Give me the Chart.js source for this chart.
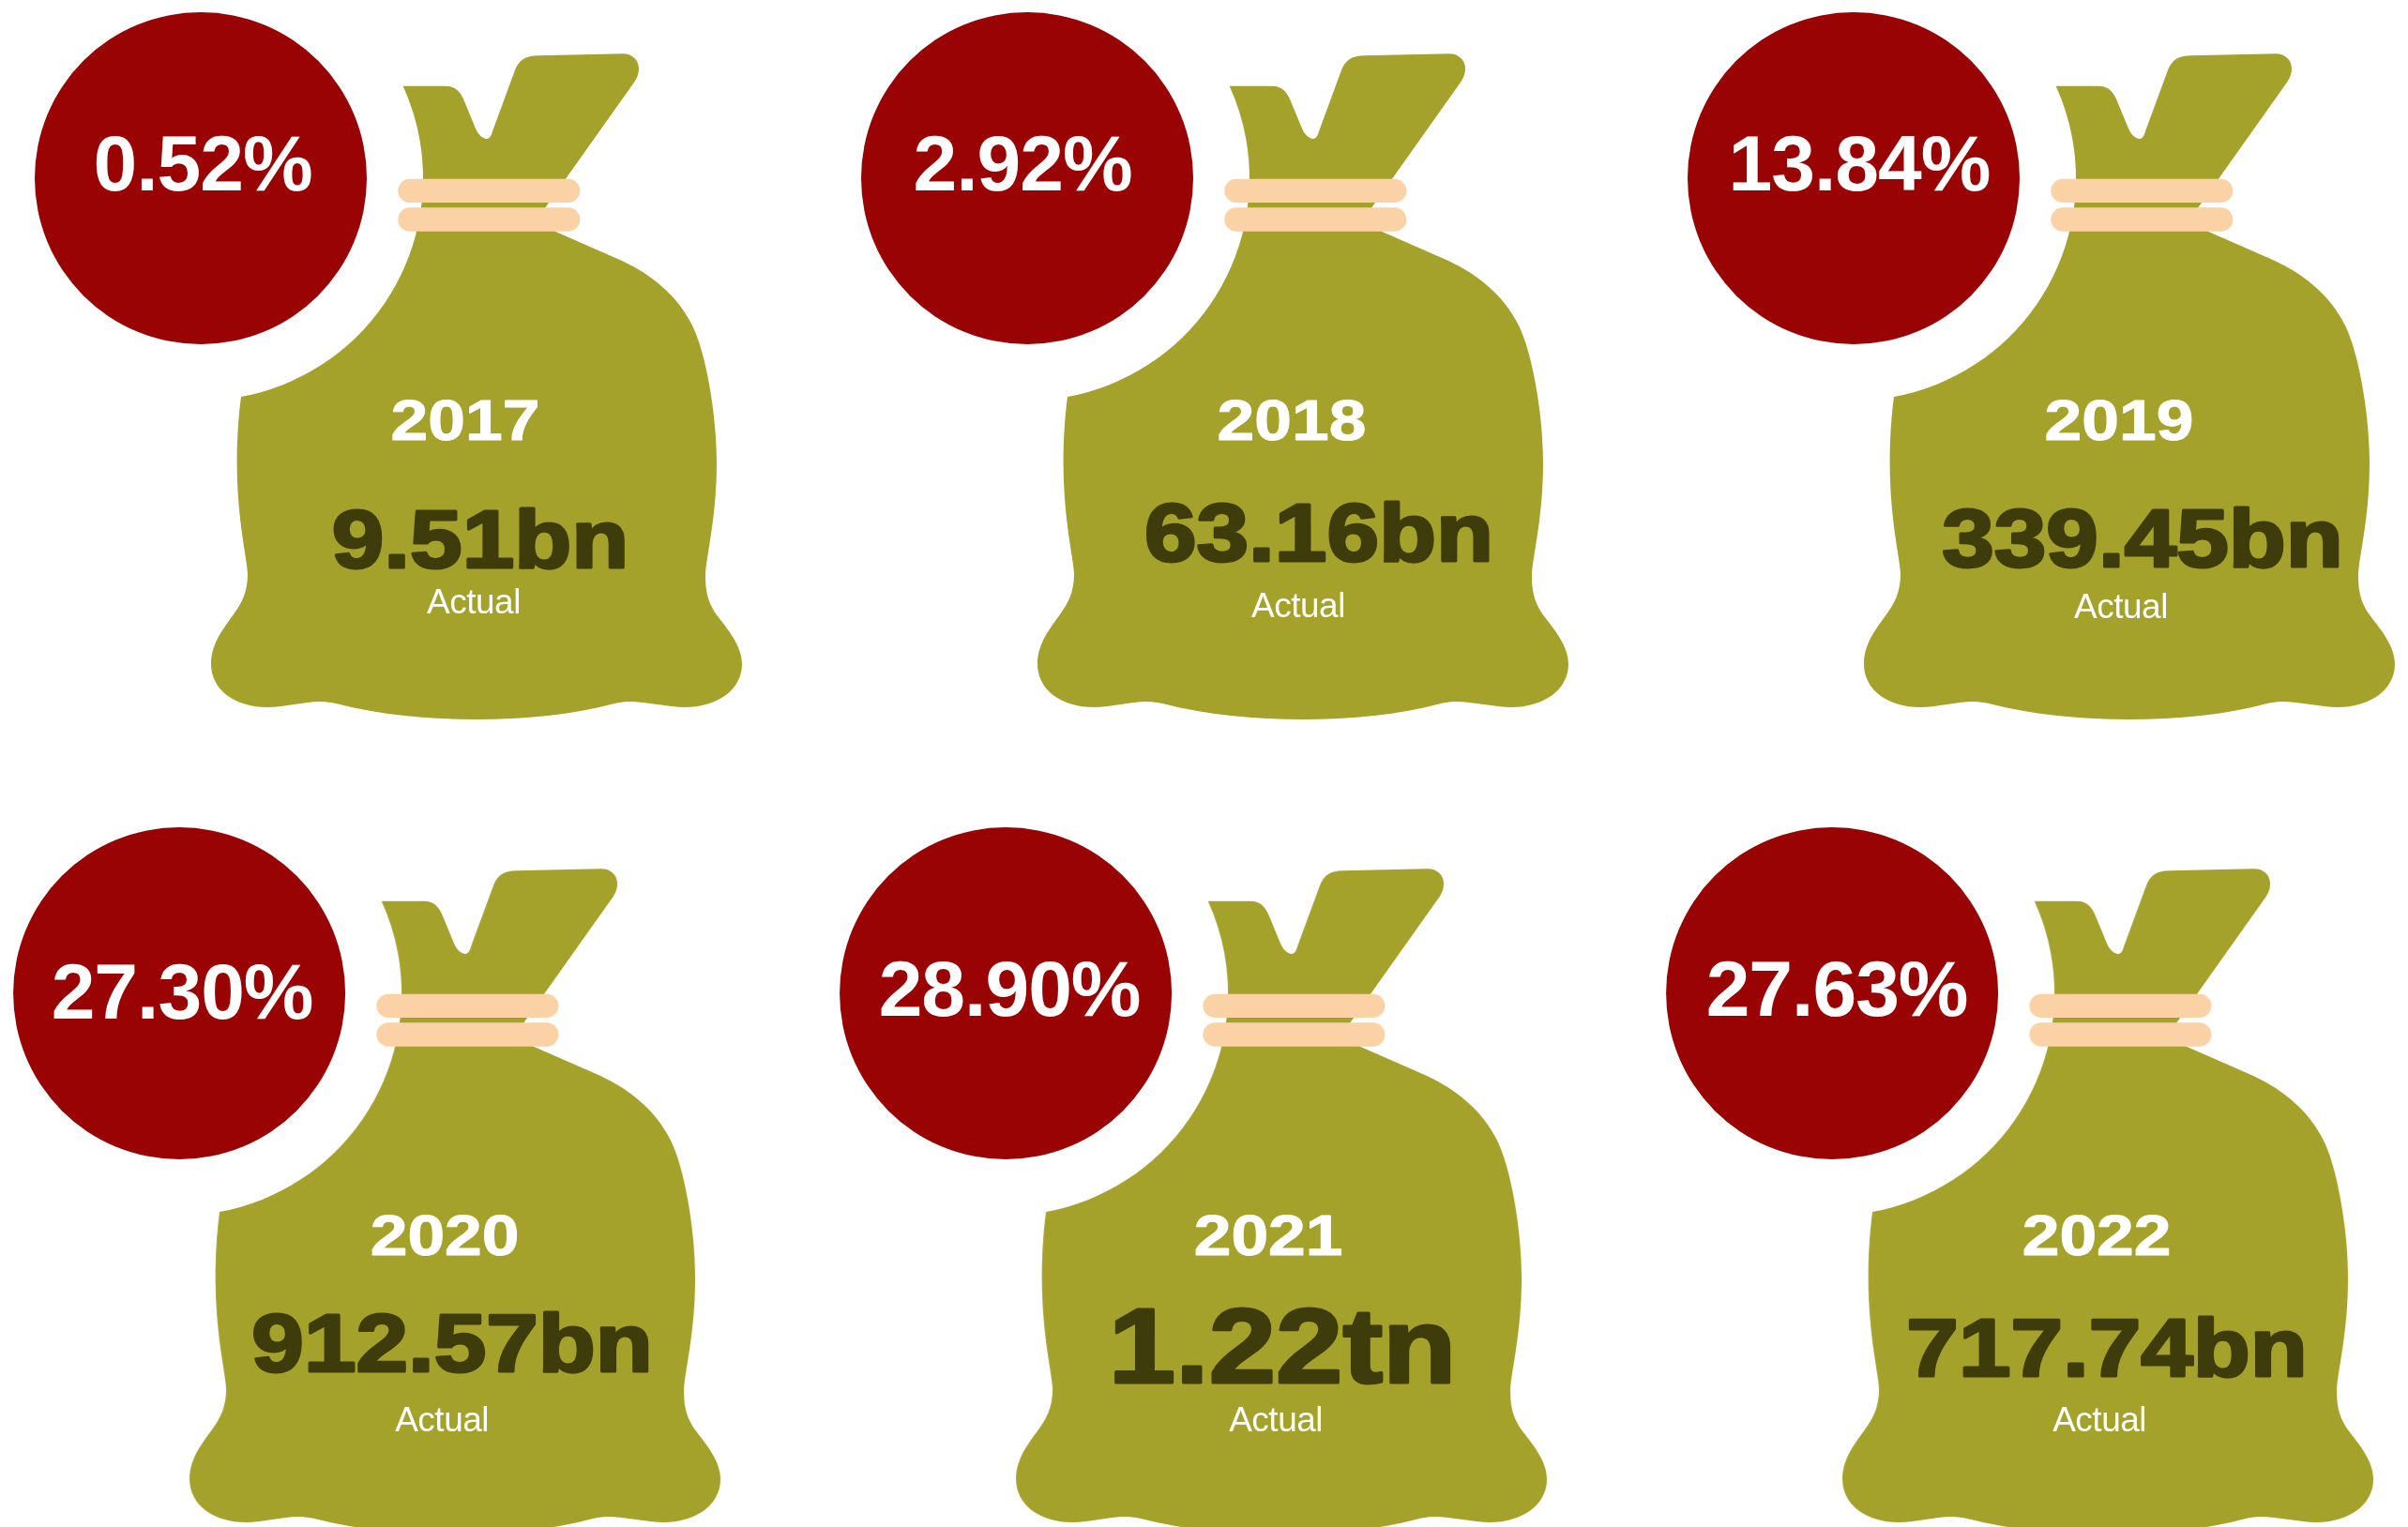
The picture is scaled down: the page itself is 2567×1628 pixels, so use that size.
<!DOCTYPE html>
<html>
<head>
<meta charset="utf-8">
<title>Money bags</title>
<script src="https://cdn.jsdelivr.net/npm/chart.js@4"></script>
<style>
    html, body { margin: 0; padding: 0; background: #ffffff; overflow: hidden; }
    canvas { display: block; }
</style>
</head>
<body>
<canvas id="bagChart" width="2567" height="1628"></canvas>
<script>
// values
const years = ["2017", "2018", "2019", "2020", "2021", "2022"];
const growthPct = [0.52, 2.92, 13.84, 27.30, 28.90, 27.63];
const amountLabels = ["9.51bn", "63.16bn", "339.45bn", "912.57bn", "1.22tn", "717.74bn"];
const statusLabels = ["Actual", "Actual", "Actual", "Actual", "Actual", "Actual"];

// layout of the text inside each cell, in px from the circle centre
const pctDx = [2, -5, 6, 3, 4, 5];
const pctDy = [13, 13, 13, 27, 24, 24];
const yearDx = [282, 282, 283, 283, 280, 282];
const amountDx = [298, 311, 308, 291, 295, 293];
const amountDy = [415, 408, 414, 403, 415, 408];
const amountSize = [88, 88, 88, 88, 113, 88];
const actualDx = [291, 289, 285, 280, 288, 285];
const actualDy = [464, 468, 469, 467, 467, 467];

const BAG = "#a4a22b";
const RED = "#990303";
const BAND = "#fad2a5";
const DARK = "#3f3c0b";

// the bag picture, centred on the circle so it can be used as a point style
function makeBag() {
    const c = document.createElement("canvas");
    c.width = 1300;
    c.height = 1300;
    const g = c.getContext("2d");
    g.translate(650 - 214, 650 - 190);

    g.fillStyle = BAG;
    g.beginPath();
    g.moveTo(429.3, 91.7);
    g.lineTo(475, 91.7);
    g.bezierCurveTo(487, 91.7, 492, 100, 495, 108);
    g.lineTo(507, 137);
    g.bezierCurveTo(510, 144, 515, 148, 519, 148);
    g.bezierCurveTo(522, 148, 524, 144, 525, 140);
    g.lineTo(548.3, 76.7);
    g.bezierCurveTo(553, 63, 561, 59.5, 573, 59.3);
    g.lineTo(663, 57.3);
    g.bezierCurveTo(675, 57, 681, 65, 681, 73.3);
    g.bezierCurveTo(681, 79, 679, 83, 676.7, 86.7);
    g.lineTo(581, 221.7);
    g.lineTo(575, 240);
    g.lineTo(591.7, 246.7);
    g.lineTo(663, 278);
    g.bezierCurveTo(695, 293, 722, 315, 738, 347);
    g.bezierCurveTo(752, 375, 764, 440, 764, 493);
    g.bezierCurveTo(764, 555, 752, 595, 752, 615);
    g.bezierCurveTo(752, 635, 757, 645, 763.5, 655);
    g.bezierCurveTo(775, 670, 791, 688, 791, 708);
    g.bezierCurveTo(791, 735, 765, 754, 730, 754);
    g.bezierCurveTo(712, 754, 690, 748, 670, 748);
    g.bezierCurveTo(664, 748, 660, 749, 655, 750);
    g.bezierCurveTo(610, 762, 560, 767, 508, 767);
    g.bezierCurveTo(456, 767, 405, 762, 358, 750);
    g.bezierCurveTo(353, 749, 348, 748, 342, 748);
    g.bezierCurveTo(322, 748, 305, 754, 285, 754);
    g.bezierCurveTo(250, 754, 225, 735, 225, 708);
    g.bezierCurveTo(225, 685, 240, 668, 249, 655);
    g.bezierCurveTo(257, 644, 264, 632, 264, 612);
    g.bezierCurveTo(264, 598, 252.6, 555, 252.6, 493);
    g.bezierCurveTo(252.6, 470, 254, 445, 257, 423);
    // white ring around the red circle
    g.arc(214, 190, 237, Math.atan2(233, 43), Math.atan2(-98, 215), true);
    g.closePath();
    g.fill();

    g.fillStyle = BAND;
    g.beginPath();
    g.roundRect(424.3, 190.7, 194, 25.3, 12.6);
    g.roundRect(424.3, 221.3, 194, 25.4, 12.6);
    g.fill();

    return c;
}

// one point per year, placed on a column / row grid
const cells = years.map(function (year, i) {
    const row = Math.floor(i / 3);
    return { x: i % 3 - row * 0.026, y: row };
});

function drawText(ctx, text, x, y, size, weight, color, stretch, stroke, spacing) {
    ctx.save();
    ctx.translate(x, y);
    ctx.scale(stretch, 1);
    ctx.font = weight + " " + size + "px 'Liberation Sans', Arial, sans-serif";
    ctx.letterSpacing = spacing + "px";
    ctx.textAlign = "center";
    ctx.textBaseline = "alphabetic";
    ctx.fillStyle = color;
    ctx.fillText(text, 0, 0);
    if (stroke > 0) {
        ctx.strokeStyle = color;
        ctx.lineWidth = stroke;
        ctx.lineJoin = "round";
        ctx.strokeText(text, 0, 0);
    }
    ctx.restore();
}

const bagLabels = {
    id: "bagLabels",
    afterDatasetsDraw(chart) {
        const ctx = chart.ctx;
        chart.getDatasetMeta(1).data.forEach(function (pt, i) {
            drawText(ctx, growthPct[i].toFixed(2) + "%", pt.x + pctDx[i], pt.y + pctDy[i], 84, "bold", "#ffffff", 1, 0, -1);
            drawText(ctx, years[i], pt.x + yearDx[i], pt.y + 279, 61, "bold", "#ffffff", 1.17, 1, 0);
            drawText(ctx, amountLabels[i], pt.x + amountDx[i], pt.y + amountDy[i], amountSize[i], "bold", DARK, 1.135, 3, 0);
            drawText(ctx, statusLabels[i], pt.x + actualDx[i], pt.y + actualDy[i], 37, "normal", "#ffffff", 1, 0, -0.5);
        });
    }
};

new Chart(document.getElementById("bagChart"), {

    type: "scatter",

    data: {
        datasets: [
            {
                label: "Amount",
                data: cells,
                pointStyle: makeBag(),
                pointRadius: 1,
                pointHoverRadius: 1,
                clip: false
            },
            {
                label: "Growth",
                data: cells,
                pointStyle: "circle",
                pointRadius: 177,
                pointHoverRadius: 177,
                pointBackgroundColor: RED,
                pointBorderWidth: 0,
                clip: false
            }
        ]
    },

    plugins: [bagLabels],

    options: {
        responsive: false,
        animation: false,
        events: [],
        layout: { padding: 0, autoPadding: false },
        plugins: {
            legend: { display: false },
            tooltip: { enabled: false }
        },
        scales: {
            x: { display: false, min: -214 / 881, max: 2353 / 881 },
            y: { display: false, reverse: true, min: -190 / 869, max: 1438 / 869 }
        }
    },

});
</script>
</body>
</html>
